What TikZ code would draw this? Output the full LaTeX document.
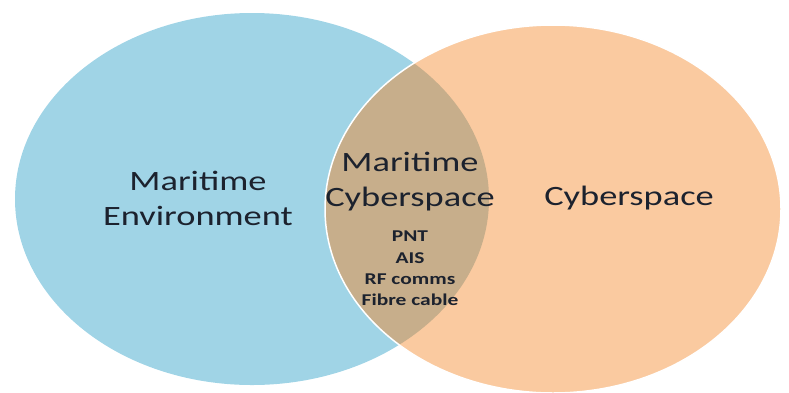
\documentclass[tikz,border=0pt]{standalone}
\usepackage{fontspec}
\setmainfont{Carlito}[FakeStretch=1.3]
\usetikzlibrary{positioning}
\def\seaellipse{(252,199) ellipse [x radius=237pt, y radius=186pt]}
\def\cyberellipse{(553,209) ellipse [x radius=228pt, y radius=184pt]}
\definecolor{sea area}{HTML}{A0D4E6}
\definecolor{cyber area}{HTML}{FACAA0}
\definecolor{overlap area}{HTML}{C7AE8B}
\definecolor{label ink}{HTML}{1C222E}
\tikzset{biglabel/.style={align=center, text=label ink, font=\fontsize{28}{35}\selectfont},
    smalllabel/.style={align=center, text=label ink, font=\fontsize{16.5}{21.3}\selectfont\bfseries}}

\begin{document}
\begin{tikzpicture}[x=1pt, y=-1pt]
    \useasboundingbox (0,0) rectangle (789,392);
    \fill[sea area] \seaellipse;
    \fill[cyber area] \cyberellipse;
    \begin{scope}
        \clip \cyberellipse;
        \fill[overlap area] \seaellipse;
    \end{scope}
    \draw[white, line width=1.5pt] \cyberellipse;

    \node[biglabel] (sea) at (198,198) {Maritime\\Environment};
    \node[biglabel] (overlap) at (410,181.5) {Maritime\\Cyberspace};
    \node[smalllabel, below=13pt of overlap] (items) {PNT\\AIS\\RF comms\\Fibre cable};
    \node[biglabel, anchor=base] (cyber) at (629,205) {Cyberspace};
\end{tikzpicture}
\end{document}
